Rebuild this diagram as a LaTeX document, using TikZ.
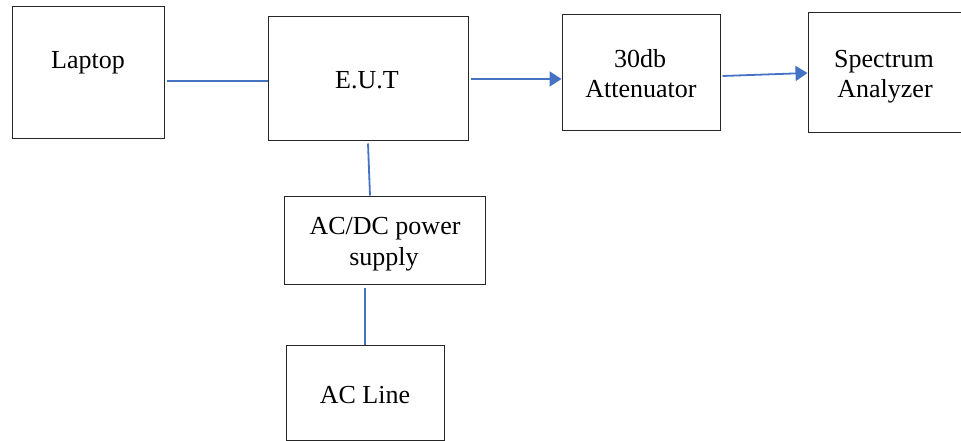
\documentclass[tikz,border=0pt]{standalone}
\usepackage{fontspec}
\setmainfont{Liberation Serif}
\usetikzlibrary{arrows.meta}

\definecolor{linkblue}{RGB}{68,114,196}

\tikzset{
  block/.style={draw=black!85, line width=1pt, fill=white, inner sep=0pt},
  caption/.style={anchor=base, inner sep=0pt, font=\fontsize{26}{30}\selectfont},
  link/.style={draw=linkblue, line width=1.8pt},
  flow/.style={link, -{Triangle[length=12pt,width=15pt]}},
}

\begin{document}
\begin{tikzpicture}[x=1pt, y=-1pt]
  \useasboundingbox (0,0) rectangle (961,441);

  % blocks
  \node[block, minimum width=152pt, minimum height=132pt] (laptop) at (88,73) {};
  \node[block, minimum width=200pt, minimum height=124pt] (eut) at (368,79) {};
  \node[block, minimum width=158pt, minimum height=116pt] (att) at (641,73) {};
  \node[block, minimum width=157pt, minimum height=120pt] (sa) at (886.5,73) {};
  \node[block, minimum width=201pt, minimum height=88pt] (acdc) at (384.5,240) {};
  \node[block, minimum width=158pt, minimum height=95pt] (acline) at (365,392.5) {};

  % labels
  \node[caption] (laptopT) at (88,69) {Laptop};
  \node[caption] (eutT) at (367,89) {E.U.T};
  \node[caption] (attT1) at (640,68) {30db};
  \node[caption] (attT2) at (641,98) {Attenuator};
  \node[caption] (saT1) at (884,68) {Spectrum};
  \node[caption] (saT2) at (885,98) {Analyzer};
  \node[caption] (acdcT1) at (385,234) {AC/DC power};
  \node[caption] (acdcT2) at (384,265) {supply};
  \node[caption] (aclineT) at (365,403) {AC Line};

  % connectors (shifts are in page units: negative yshift moves down)
  \draw[link] ([xshift=2pt,yshift=-8pt]laptop.east) -- ([yshift=-2pt]eut.west);
  \draw[flow] ([xshift=2pt]eut.east) -- (eut.east -| att.west);
  \draw[flow] ([xshift=2pt,yshift=-3pt]att.east) -- (sa.west);
  \draw[link] ([yshift=-2pt]eut.south) -- ([xshift=-14.5pt]acdc.north);
  \draw[link] ([yshift=-3pt]acline.north |- acdc.south) -- (acline.north);
\end{tikzpicture}
\end{document}
